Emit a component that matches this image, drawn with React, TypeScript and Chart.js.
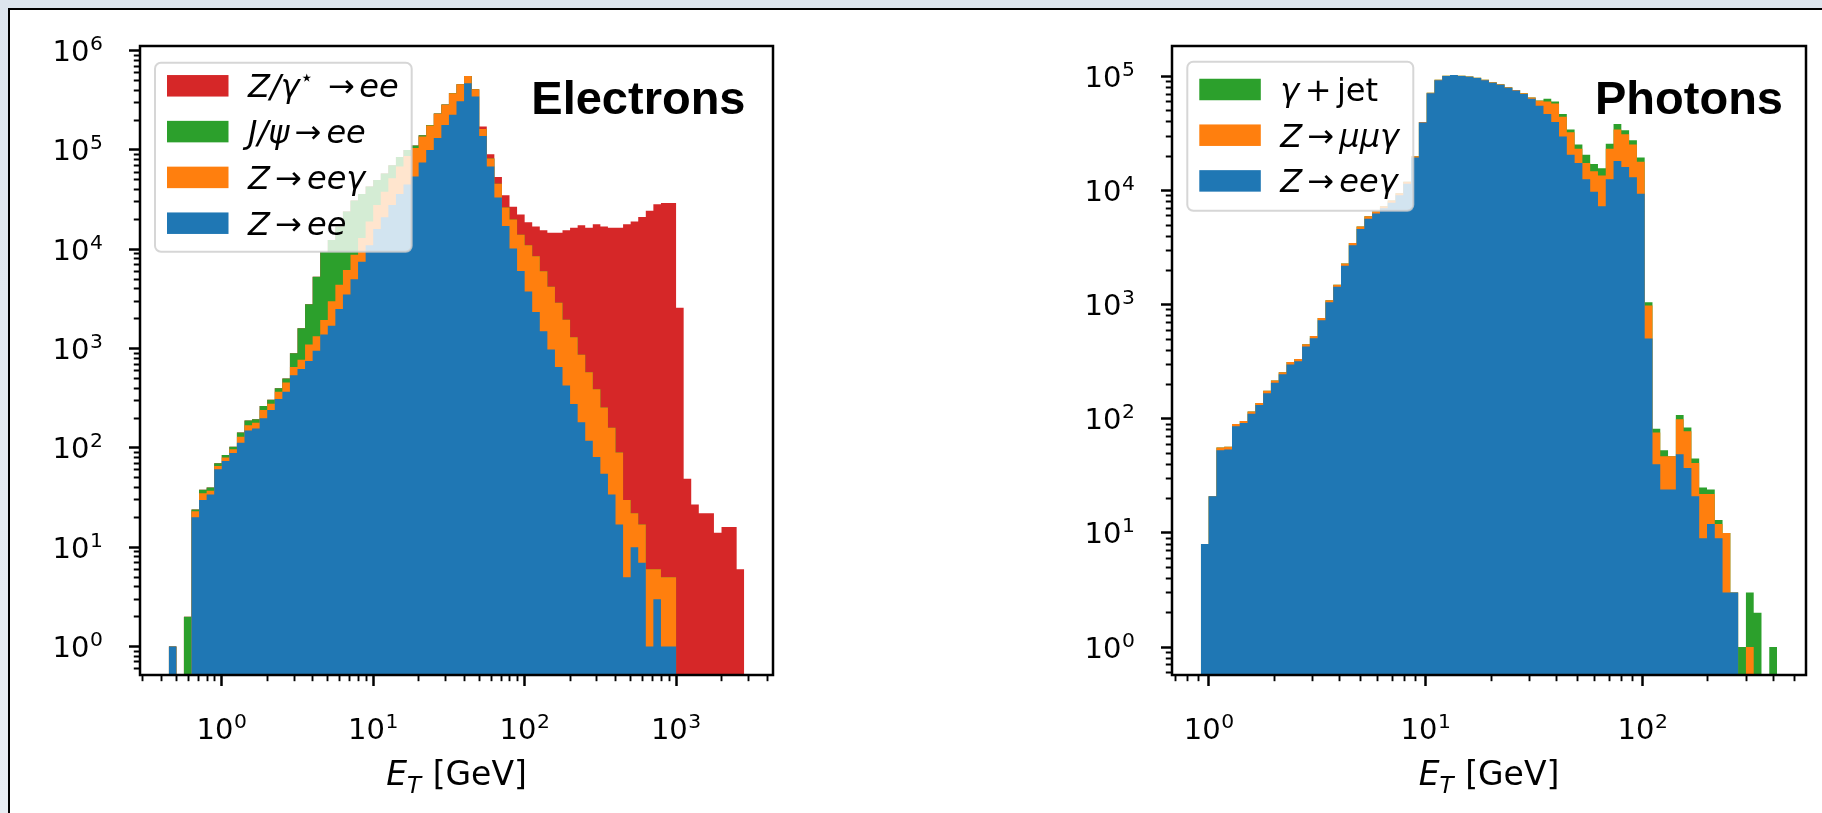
import React, { useEffect, useRef } from 'react';
import { Chart, registerables } from 'chart.js';

Chart.register(...registerables);

const FONT = "'DejaVu Sans', 'Noto Sans', sans-serif";
const HEAD_FONT = "'Liberation Sans', Arial, sans-serif";

const C_BLUE = '#1f77b4';
const C_ORANGE = '#ff7f0e';
const C_GREEN = '#2ca02c';
const C_RED = '#d62728';

// ---------------- Electrons panel ----------------
// 76 log-spaced bins in E_T (20 per decade) starting at 10^-0.35 GeV
const ELECTRON_BIN_LOG_START = -0.35;
const ELECTRON_BIN_LOG_WIDTH = 0.05;
const ELECTRON_X_LOG_RANGE = [-0.54, 3.64];
const ELECTRON_Y_LOG_RANGE = [-0.286, 6.047];
const ELECTRON_X_DECADES = [0, 1, 2, 3];
const ELECTRON_Y_DECADES = [0, 1, 2, 3, 4, 5, 6];

// Z -> ee
const ELECTRON_Z_EE = [
  1, 0, 0, 20, 30, 34, 61, 74, 89, 113,
  150, 157, 199, 241, 311, 369, 540, 622, 752, 950,
  1390, 1700, 2500, 3500, 5000, 7500, 11000, 16000, 21000, 28000,
  36000, 45000, 54000, 74700, 100000, 132000, 179000, 226000, 310000, 470000,
  345000, 138000, 68000, 33300, 17200, 10200, 6050, 3770, 2340, 1500,
  980, 652, 425, 277, 181, 118, 81, 55, 34, 17,
  5, 10, 7, 1, 3, 1, 1, 0, 0, 0,
  0, 0, 0, 0, 0, 0,
];
// Z -> ee gamma
const ELECTRON_Z_EEGAMMA = [
  0, 0, 0, 3, 5, 3, 5, 6, 8, 17,
  19, 22, 42, 37, 58, 86, 112, 151, 348, 380,
  550, 1300, 1900, 2700, 3800, 5500, 8000, 12000, 17000, 24000,
  32000, 42000, 51000, 62000, 76000, 99000, 106000, 147000, 148000, 85000,
  64000, 25000, 14200, 12300, 9100, 9800, 7950, 7230, 6160, 4500,
  3220, 2248, 1525, 1023, 689, 462, 309, 200, 126, 73,
  25, 12, 10, 5, 3, 4, 4, 0, 0, 0,
  0, 0, 0, 0, 0, 0,
];
// J/psi -> ee
const ELECTRON_JPSI_EE = [
  0, 0, 2, 1, 3, 3, 4, 5, 6, 13,
  20, 15, 24, 27, 29, 45, 248, 827, 1700, 3970,
  7460, 9400, 12600, 17800, 22200, 23000, 24000, 22000, 20000, 18000,
  17000, 13000, 6000, 4300, 3000, 2000, 2000, 2000, 2000, 1000,
  0, 0, 0, 0, 0, 0, 0, 0, 0, 0,
  0, 0, 0, 0, 0, 0, 0, 0, 0, 0,
  0, 0, 0, 0, 0, 0, 0, 0, 0, 0,
  0, 0, 0, 0, 0, 0,
];
// Z/gamma* -> ee
const ELECTRON_DY_EE = [
  0, 0, 0, 0, 0, 0, 0, 0, 0, 0,
  0, 0, 0, 0, 0, 0, 0, 0, 0, 0,
  0, 0, 0, 0, 0, 0, 0, 0, 0, 0,
  0, 0, 0, 0, 0, 0, 0, 0, 0, 0,
  1000, 9000, 8200, 8000, 8700, 6900, 8400, 7700, 8500, 9600,
  10500, 11800, 13650, 15200, 16630, 15920, 17510, 16745, 16340, 16410,
  17870, 19078, 21083, 24400, 28500, 29200, 29200, 2580, 49, 27,
  22, 22, 14, 16, 16, 6,
];

// ---------------- Photons panel ----------------
// 74 log-spaced bins in E_T starting at 10^-0.037 GeV
const PHOTON_BIN_LOG_START = -0.037;
const PHOTON_BIN_LOG_WIDTH = 0.0359;
const PHOTON_X_LOG_RANGE = [-0.17, 2.753];
const PHOTON_Y_LOG_RANGE = [-0.245, 5.268];
const PHOTON_X_DECADES = [0, 1, 2];
const PHOTON_Y_DECADES = [0, 1, 2, 3, 4, 5];

// Z -> ee gamma
const PHOTON_Z_EEGAMMA = [
  8, 21, 53, 54, 86, 92, 111, 132, 168, 207,
  246, 300, 320, 430, 510, 730, 1050, 1440, 2200, 3330,
  4620, 5680, 6300, 7000, 7850, 9100, 11500, 19500, 39500, 71500,
  93000, 101000, 103000, 101000, 99500, 97000, 93000, 88500, 85000, 80000,
  75500, 70500, 64000, 55600, 47100, 40000, 29900, 20600, 17500, 12600,
  9800, 7300, 12600, 18200, 16100, 13100, 9400, 507, 40, 24,
  24, 49, 37, 21, 9, 12, 9, 3, 3, 0,
  0, 0, 0, 0,
];
// Z -> mu mu gamma
const PHOTON_Z_MUMUGAMMA = [
  0, 0, 3, 3, 4, 4, 5, 6, 8, 10,
  10, 15, 15, 20, 22, 35, 45, 60, 100, 150,
  230, 280, 300, 300, 350, 400, 500, 500, 500, 500,
  700, 600, 400, 600, 500, 700, 800, 700, 600, 800,
  800, 800, 1600, 5800, 13300, 18000, 14600, 11900, 5800, 4900,
  5000, 6300, 10700, 16200, 15100, 12300, 8500, 476, 36, 23,
  23, 50, 41, 20, 13, 10, 3, 7, 0, 0,
  1, 0, 0, 0,
];
// gamma + jet
const PHOTON_GAMMA_JET = [
  0, 0, 0, 0, 0, 0, 0, 0, 0, 0,
  0, 0, 0, 0, 0, 0, 0, 0, 0, 0,
  0, 0, 0, 0, 0, 0, 0, 0, 0, 0,
  0, 0, 0, 0, 0, 0, 0, 0, 0, 0,
  0, 0, 100, 200, 3600, 2400, 2600, 1900, 2100, 3100,
  2300, 2100, 2500, 4000, 2700, 2200, 1600, 67, 6, 6,
  0, 9, 6, 4, 3, 2, 1, 0, 0, 1,
  2, 2, 0, 1,
];

// value used for empty bins so they sit below the visible axis range
const EMPTY_FLOOR = 1e-3;

type Seg = { t?: string; it?: boolean; sup?: boolean; sub?: boolean; gap?: number };

function drawRich(ctx: CanvasRenderingContext2D, x: number, y: number, segs: Seg[], size: number, draw = true): number {
  let cx = x;
  for (const s of segs) {
    if (s.gap !== undefined) {
      cx += s.gap * size;
      continue;
    }
    const fs = s.sup || s.sub ? size * 0.7 : size;
    ctx.font = `${s.it ? 'italic ' : ''}${fs}px ${FONT}`;
    const dy = s.sup ? -size * 0.38 : s.sub ? size * 0.24 : 0;
    if (draw) ctx.fillText(s.t as string, cx, y + dy);
    cx += ctx.measureText(s.t as string).width;
  }
  return cx - x;
}

const decadeSegs = (e: number): Seg[] => [{ t: '10' }, { gap: 0.02 }, { t: String(e), sup: true }];

interface Layer { name: Seg[]; color: string; values: number[] }
interface Panel {
  binLogStart: number;
  binLogWidth: number;
  layers: Layer[];
  legendOrder: number[];
  xLog: number[];
  yLog: number[];
  xDecades: number[];
  yDecades: number[];
  heading: string;
  headingInset: number;
  legend: { dx: number; dy: number; w: number; h: number; rows: number[] };
  pad: { left: number; right: number; top: number; bottom: number };
}

const arrow = (a: Seg[], b: Seg[], g1 = 0.16, g2 = 0.16): Seg[] => [...a, { gap: g1 }, { t: '→' }, { gap: g2 }, ...b];

const ELECTRONS: Panel = {
  binLogStart: ELECTRON_BIN_LOG_START,
  binLogWidth: ELECTRON_BIN_LOG_WIDTH,
  layers: [
    { name: arrow([{ t: 'Z', it: true }], [{ t: 'ee', it: true }]), color: C_BLUE, values: ELECTRON_Z_EE },
    { name: arrow([{ t: 'Z', it: true }], [{ t: 'eeγ', it: true }]), color: C_ORANGE, values: ELECTRON_Z_EEGAMMA },
    { name: arrow([{ t: 'J/ψ', it: true }], [{ t: 'ee', it: true }]), color: C_GREEN, values: ELECTRON_JPSI_EE },
    { name: arrow([{ t: 'Z/γ', it: true }, { t: '⋆', sup: true }], [{ t: 'ee', it: true }], 0.45, 0.14), color: C_RED, values: ELECTRON_DY_EE },
  ],
  legendOrder: [3, 2, 1, 0],
  xLog: ELECTRON_X_LOG_RANGE,
  yLog: ELECTRON_Y_LOG_RANGE,
  xDecades: ELECTRON_X_DECADES,
  yDecades: ELECTRON_Y_DECADES,
  heading: 'Electrons',
  headingInset: 27.5,
  legend: { dx: 15, dy: 16.7, w: 256.7, h: 189, rows: [39.8, 85.6, 131.4, 177.2] },
  pad: { left: 40, right: 138, top: 46, bottom: 38 },
};

const PHOTONS: Panel = {
  binLogStart: PHOTON_BIN_LOG_START,
  binLogWidth: PHOTON_BIN_LOG_WIDTH,
  layers: [
    { name: arrow([{ t: 'Z', it: true }], [{ t: 'eeγ', it: true }]), color: C_BLUE, values: PHOTON_Z_EEGAMMA },
    { name: arrow([{ t: 'Z', it: true }], [{ t: 'μμγ', it: true }]), color: C_ORANGE, values: PHOTON_Z_MUMUGAMMA },
    { name: [{ t: 'γ', it: true }, { gap: 0.17 }, { t: '+' }, { gap: 0.17 }, { t: 'jet' }], color: C_GREEN, values: PHOTON_GAMMA_JET },
  ],
  legendOrder: [2, 1, 0],
  xLog: PHOTON_X_LOG_RANGE,
  yLog: PHOTON_Y_LOG_RANGE,
  xDecades: PHOTON_X_DECADES,
  yDecades: PHOTON_Y_DECADES,
  heading: 'Photons',
  headingInset: 23,
  legend: { dx: 15.3, dy: 15.7, w: 226, h: 149, rows: [43.5, 89.2, 134.9] },
  pad: { left: 161, right: 16, top: 46, bottom: 38 },
};

const TICK_MAJOR = 11;
const TICK_MINOR = 6.2;
const TICK_FONT = 29;
const LEGEND_FONT = 32;
const LABEL_FONT = 33;

function logTicks(decades: number[]) {
  return (scale: any) => {
    const lo = Math.log10(scale.min);
    const hi = Math.log10(scale.max);
    const ticks: { value: number; major: boolean }[] = [];
    for (let e = Math.floor(lo); e <= Math.floor(hi); e++) {
      for (let m = 1; m <= 9; m++) {
        const v = m * Math.pow(10, e);
        const lv = Math.log10(v);
        if (lv < lo || lv > hi) continue;
        if (m === 1 && !decades.includes(e)) continue;
        ticks.push({ value: v, major: m === 1 });
      }
    }
    scale.ticks = ticks;
  };
}

function axis(logRange: number[], decades: number[], isX: boolean) {
  return {
    type: 'logarithmic',
    min: Math.pow(10, logRange[0]),
    max: Math.pow(10, logRange[1]),
    bounds: 'data',
    afterBuildTicks: logTicks(decades),
    afterFit: (s: any) => {
      if (isX) s.height = 100;
      else s.width = 100;
    },
    grid: {
      display: true,
      drawOnChartArea: false,
      drawTicks: true,
      tickLength: TICK_MAJOR,
      tickColor: '#000',
      tickWidth: (c: any) => (c.tick && c.tick.major ? 2.5 : 1.9),
      tickBorderDash: (c: any) =>
        c.tick && c.tick.major ? [] : isX ? [TICK_MINOR, 100] : [0, TICK_MAJOR - TICK_MINOR, TICK_MINOR, 100],
    },
    border: { display: false },
    // labels are drawn by the overlay plugin (with real superscripts) at the scale's tick pixels
    ticks: { display: false, autoSkip: false, maxRotation: 0, minRotation: 0 },
  };
}

function overlay(p: Panel) {
  return {
    id: 'overlay',
    afterDraw(chart: any) {
      const ctx: CanvasRenderingContext2D = chart.ctx;
      const a = chart.chartArea;
      const xs = chart.scales.x;
      const ys = chart.scales.y;
      ctx.save();
      ctx.fillStyle = '#000';
      ctx.textBaseline = 'alphabetic';
      ctx.textAlign = 'left';
      // tick labels
      for (const t of xs.ticks) {
        if (!t.major) continue;
        const e = Math.round(Math.log10(t.value));
        const segs = decadeSegs(e);
        const w = drawRich(ctx, 0, 0, segs, TICK_FONT, false);
        drawRich(ctx, xs.getPixelForValue(t.value) - w / 2, 739, segs, TICK_FONT);
      }
      for (const t of ys.ticks) {
        if (!t.major) continue;
        const e = Math.round(Math.log10(t.value));
        const segs = decadeSegs(e);
        const w = drawRich(ctx, 0, 0, segs, TICK_FONT, false);
        drawRich(ctx, a.left - 37 - w, ys.getPixelForValue(t.value) + 10.5, segs, TICK_FONT);
      }
      // legend
      const L = p.legend;
      const bx = a.left + L.dx;
      const by = a.top + L.dy;
      const r = 6;
      ctx.beginPath();
      ctx.moveTo(bx + r, by);
      ctx.lineTo(bx + L.w - r, by);
      ctx.arcTo(bx + L.w, by, bx + L.w, by + r, r);
      ctx.lineTo(bx + L.w, by + L.h - r);
      ctx.arcTo(bx + L.w, by + L.h, bx + L.w - r, by + L.h, r);
      ctx.lineTo(bx + r, by + L.h);
      ctx.arcTo(bx, by + L.h, bx, by + L.h - r, r);
      ctx.lineTo(bx, by + r);
      ctx.arcTo(bx, by, bx + r, by, r);
      ctx.closePath();
      ctx.fillStyle = 'rgba(255,255,255,0.8)';
      ctx.fill();
      ctx.strokeStyle = 'rgba(204,204,204,0.8)';
      ctx.lineWidth = 2;
      ctx.stroke();
      p.legendOrder.forEach((li, row) => {
        const cy = a.top + L.rows[row];
        ctx.fillStyle = p.layers[li].color;
        ctx.fillRect(bx + 12, cy - 10.75, 61.5, 21.5);
        ctx.fillStyle = '#000';
        drawRich(ctx, bx + 93, cy + 11.5, p.layers[li].name, LEGEND_FONT);
      });
      // frame
      ctx.strokeStyle = '#000';
      ctx.lineWidth = 2.5;
      ctx.strokeRect(a.left, a.top, a.right - a.left, a.bottom - a.top);
      // heading
      ctx.fillStyle = '#000';
      ctx.font = `bold 47px ${HEAD_FONT}`;
      ctx.textAlign = 'right';
      ctx.fillText(p.heading, a.right - p.headingInset, 113.5);
      // x axis title
      ctx.textAlign = 'left';
      const segs: Seg[] = [{ t: 'E', it: true }, { t: 'T', it: true, sub: true }, { gap: 0.35 }, { t: '[GeV]' }];
      const w = drawRich(ctx, 0, 0, segs, LABEL_FONT, false);
      drawRich(ctx, (a.left + a.right) / 2 - w / 2, 785, segs, LABEL_FONT);
      ctx.restore();
    },
  };
}

function buildConfig(p: Panel): any {
  const n = p.layers[0].values.length;
  const edges = Array.from({ length: n + 1 }, (_, i) => Math.pow(10, p.binLogStart + i * p.binLogWidth));
  const running = new Array(n).fill(0);
  const datasets = p.layers.map((layer) => {
    for (let i = 0; i < n; i++) running[i] += layer.values[i];
    const pts: { x: number; y: number }[] = [];
    for (let i = 0; i < n; i++) {
      const y = running[i] > 0 ? running[i] : EMPTY_FLOOR;
      pts.push({ x: edges[i], y });
      pts.push({ x: edges[i + 1], y });
    }
    return {
      data: pts,
      fill: 'start',
      backgroundColor: layer.color,
      borderColor: 'rgba(0,0,0,0)',
      borderWidth: 0,
      pointRadius: 0,
      pointHoverRadius: 0,
      tension: 0,
    };
  });
  return {
    type: 'line',
    data: { datasets },
    options: {
      animation: false,
      responsive: false,
      events: [],
      devicePixelRatio: 1,
      layout: { autoPadding: false, padding: p.pad },
      plugins: { legend: { display: false }, tooltip: { enabled: false } },
      scales: {
        x: axis(p.xLog, p.xDecades, true),
        y: axis(p.yLog, p.yDecades, false),
      },
    },
    plugins: [overlay(p)],
  };
}

export default function App() {
  const leftRef = useRef<HTMLCanvasElement>(null);
  const rightRef = useRef<HTMLCanvasElement>(null);
  useEffect(() => {
    const c1 = new Chart(leftRef.current as HTMLCanvasElement, buildConfig(ELECTRONS));
    const c2 = new Chart(rightRef.current as HTMLCanvasElement, buildConfig(PHOTONS));
    return () => {
      c1.destroy();
      c2.destroy();
    };
  }, []);
  return (
    <div style={{ position: 'fixed', left: 0, top: 0, width: 1822, height: 813, overflow: 'hidden', background: 'linear-gradient(180deg, #dde5ee 0%, #e8edf3 100%)' }}>
      <div style={{ position: 'absolute', left: 8, top: 8, width: 1840, height: 840, background: '#fff', border: '2px solid #000', boxSizing: 'border-box' }} />
      <canvas ref={leftRef} width={911} height={813} style={{ position: 'absolute', left: 0, top: 0, width: 911, height: 813 }} />
      <canvas ref={rightRef} width={911} height={813} style={{ position: 'absolute', left: 911, top: 0, width: 911, height: 813 }} />
    </div>
  );
}
